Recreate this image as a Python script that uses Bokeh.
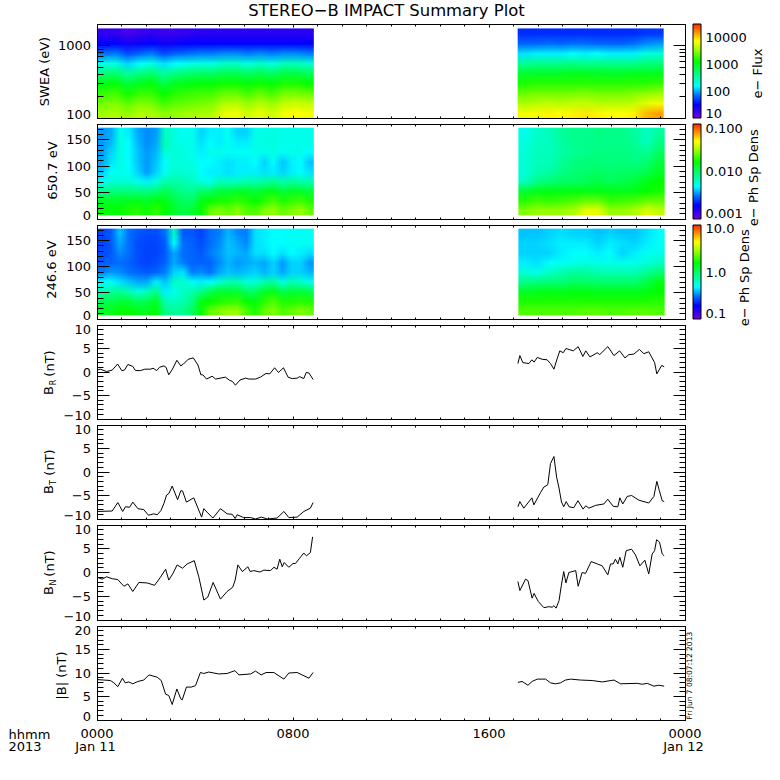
import base64, struct, zlib
import numpy as np
from bokeh.embed import file_html
from bokeh.resources import INLINE
from bokeh.plotting import figure
from bokeh.models import (ColorBar, FixedTicker, Label, LinearAxis, LinearScale, LogAxis, LogColorMapper,
                          LogScale, Range1d)

TITLE = "STEREO\u2212B IMPACT Summary Plot"
STAMP = "Fri Jun  7 08:07:12 2013"

# ---- spectrogram readings: colour-scale percent, one list per time column, top row to bottom row
swea_seg1 = [
    [8,14,24,36,48,58,64,69,73],[8,14,25,37,49,59,65,70,74],[5,12,21,31,44,54,61,67,72],
    [7,13,23,34,47,57,64,70,75],[8,14,25,37,49,59,64,69,74],[7,12,21,32,44,53,60,65,71],
    [7,13,23,34,47,57,63,67,72],[8,14,24,36,49,58,64,68,73],[9,14,25,37,50,59,65,69,74],
    [9,14,25,37,50,59,65,70,74],[9,14,26,40,52,61,68,74,80],[9,14,26,40,52,61,68,75,81],
    [9,14,25,37,50,59,65,72,77],[9,14,26,40,52,61,68,75,80],[9,14,25,37,50,59,65,72,77],
    [9,14,26,41,53,62,69,76,81],[9,14,26,41,53,62,69,77,82],[9,14,25,39,51,60,68,76,81]]
swea_seg2 = [
    [18,23,32,45,55,62,68,74,81],[18,23,33,46,56,63,69,75,81],[18,24,33,46,56,63,69,76,83],
    [18,23,33,46,56,63,69,75,82],[18,24,34,47,57,63,69,76,83],[18,24,33,46,57,63,70,76,84],
    [18,23,34,46,56,63,69,75,83],[18,23,33,46,56,63,69,75,82],[18,23,33,46,56,63,69,75,82],
    [18,24,33,46,57,63,70,76,83],[19,26,37,48,57,63,71,79,88],[19,27,38,48,57,64,72,81,90]]
pad650_seg1 = [
    [27,27,27,28,30,34,46,56,60],[28,29,31,32,34,38,47,56,60],[36,37,37,37,36,38,48,56,60],
    [33,34,34,34,34,38,48,57,62],[28,29,30,30,31,36,47,58,63],[26,26,27,27,27,33,47,56,61],
    [27,28,29,30,31,37,48,59,64],[40,42,38,34,35,42,52,58,60],[37,37,38,38,39,43,48,53,56],
    [35,36,37,37,38,42,46,50,53],[36,36,36,37,38,40,45,50,55],[31,32,33,34,34,37,50,58,60],
    [33,34,36,34,33,35,50,60,68],[33,33,36,33,33,41,54,62,70],[35,35,35,32,32,40,54,62,68],
    [31,33,35,33,33,40,56,64,71],[31,33,35,33,33,42,56,62,67],[36,36,36,34,33,42,54,60,66],
    [36,37,36,31,32,43,57,63,70],[37,37,37,34,33,45,58,66,72],[36,36,35,30,31,42,54,62,68],
    [36,36,36,33,33,44,56,64,70],[36,36,36,34,34,42,56,65,72],[36,36,34,30,32,42,54,62,68]]
pad650_seg2 = [
    [36,37,38,38,38,40,55,63,70],[39,40,41,41,42,46,57,65,72],[41,40,41,41,43,48,58,64,72],
    [44,44,43,45,46,50,58,65,72],[46,45,45,47,48,50,58,66,74],[45,46,46,48,49,51,58,68,80],
    [47,46,47,48,50,53,58,68,80],[46,46,47,47,49,51,58,64,72],[46,46,47,48,50,52,57,65,72],
    [44,45,46,47,50,54,58,66,74],[40,41,45,48,52,58,60,68,79],[44,47,50,54,56,60,62,68,76]]
pad246_seg1 = [
    [20,20,21,22,25,34,42,52,56],[22,22,22,23,27,34,44,52,57],[30,28,26,24,26,32,45,54,60],
    [24,24,24,23,24,30,42,54,60],[22,21,21,21,23,28,37,50,58],[21,20,20,20,22,28,40,52,57],
    [21,20,20,21,23,33,46,56,60],[24,22,22,23,25,30,33,42,47],[40,34,28,28,31,40,36,40,44],
    [22,24,24,25,32,39,40,42,46],[22,23,23,23,25,35,42,46,50],[20,21,22,23,26,33,46,58,60],
    [24,24,25,23,24,34,52,60,68],[25,26,27,26,28,38,55,62,70],[29,30,30,29,30,42,55,63,72],
    [26,28,29,27,29,42,55,64,72],[25,26,28,28,30,38,50,60,66],[32,32,32,29,31,38,50,58,62],
    [33,33,32,28,29,42,56,63,68],[34,34,34,31,31,44,58,66,70],[34,34,32,27,28,36,52,62,66],
    [35,35,34,31,31,42,54,62,68],[35,35,33,31,31,40,54,63,70],[35,35,32,27,29,36,52,62,68]]
pad246_seg2 = [
    [30,31,31,33,38,46,56,62,66],[30,31,31,32,36,47,57,62,66],[31,32,31,34,40,48,58,62,66],
    [32,33,33,35,42,48,57,62,66],[31,33,34,36,44,50,58,62,66],[31,33,34,37,44,50,58,62,67],
    [30,31,33,36,42,49,57,62,67],[31,33,34,36,42,49,57,62,66],[30,32,31,36,42,49,57,62,66],
    [30,31,33,36,42,49,57,62,67],[32,33,35,38,45,52,58,62,67],[34,35,36,40,48,58,60,63,66]]

# ---- magnetic field readings: hours, nT
br_t1 = [.01,.14,.39,.62,.84,1.01,1.12,1.26,1.46,1.57,1.78,1.95,2.18,2.29,2.44,2.55,2.73,2.82,2.93,3.08,3.26,3.42,3.53,3.72,3.93,4.12,4.24,4.32,4.47,4.70,4.84,5.24,5.42,5.53,5.65,5.84,6.06,6.20,6.47,6.67,6.90,7.05,7.25,7.41,7.61,7.80,7.97,8.17,8.27,8.44,8.54,8.65,8.82]
br_v1 = [.4,.6,.1,.4,1.7,.3,.4,1.6,1.2,.3,.3,.6,.6,.8,.3,1,1.3,1,-.6,.6,2.5,1.3,1.7,2.7,3,1.5,-.6,-.6,-1.5,-.9,-1.5,-1.1,-1.8,-2,-2.8,-1.7,-1.3,-1.5,-1.5,-1.1,-.3,-.4,.9,-.1,.9,-1.1,-1.4,-1.3,-1,-1.4,-.1,-.2,-1.6]
br_t2 = [17.18,17.26,17.38,17.63,17.75,17.84,17.97,18.17,18.37,18.51,18.65,18.78,18.89,19.03,19.14,19.44,19.64,19.83,19.95,20.12,20.42,20.52,20.85,21.10,21.33,21.55,21.71,21.91,22.14,22.32,22.52,22.76,22.85,23.05,23.15]
br_v2 = [1.8,3.5,2,1.8,2.6,2.1,3.1,2.7,2.6,1.8,.6,2.8,4.5,4.1,5,4.5,5.4,3.3,4.5,3.2,4.1,3.7,5.4,3.5,4.5,3,3.7,3.8,4.8,3.9,4.3,2,-.4,1.4,1.1]
bt_t1 = [.01,.62,.85,1.05,1.16,1.33,1.46,1.67,1.91,2.10,2.32,2.46,2.61,2.73,2.84,2.93,3.07,3.29,3.42,3.49,3.65,3.95,4.27,4.36,4.52,4.73,5.04,5.31,5.52,5.64,5.72,5.99,6.27,6.47,6.71,6.95,7.35,7.63,7.83,8.17,8.44,8.71,8.82]
bt_v1 = [-8.4,-8.3,-6.5,-8.4,-7.4,-7.5,-6.4,-7.8,-8,-9.2,-8.9,-9.1,-8.2,-6.7,-4.9,-4.6,-3,-5.9,-4,-4,-6.4,-5.5,-9.6,-7.8,-8.7,-9.8,-7.8,-8.9,-9,-9.9,-9.1,-9.7,-9.7,-10,-9.6,-10,-9.8,-8.4,-9.7,-9.6,-8.4,-7.7,-6.5]
bt_t2 = [17.18,17.26,17.42,17.75,17.83,18.10,18.24,18.40,18.51,18.65,18.76,18.85,18.96,19.05,19.15,19.27,19.46,19.63,19.84,19.95,20.08,20.35,20.69,20.85,21.07,21.26,21.34,21.46,21.64,21.82,22.12,22.52,22.73,22.85,22.95,23.07,23.15]
bt_v2 = [-7.4,-6.3,-7.7,-5.5,-7,-4.4,-3.2,-2.7,1.8,3.3,-1.1,-3.2,-6.4,-7.4,-6.3,-7.4,-7.6,-6.1,-7.9,-7.2,-7.7,-7.1,-6.8,-5.8,-7.3,-7.4,-5.5,-6.8,-5.2,-5,-6,-6.6,-5.2,-2,-3.9,-6.1,-6.3]
bn_t1 = [.01,.21,.39,.62,.85,1.10,1.26,1.46,1.71,2.05,2.35,2.59,2.80,2.93,3.10,3.27,3.49,3.68,3.97,4.16,4.36,4.52,4.74,5.04,5.31,5.54,5.64,5.75,5.93,6.16,6.25,6.40,6.65,6.81,7.08,7.22,7.35,7.46,7.56,7.64,7.83,8.00,8.10,8.27,8.44,8.55,8.71,8.80]
bn_v1 = [-1,-1.4,-.9,-1.3,-1.5,-2.9,-2.4,-4,-2.1,-2.2,-2.7,-1,.7,-1.6,-.2,1.6,.9,1.8,2.5,-1,-5.8,-5.2,-2.1,-5.6,-4,-3.1,-1.6,1.6,.2,1.2,.2,.4,.1,.5,.4,1.1,.7,2.8,1.2,2.1,1.1,1.9,1.9,3,4.1,3.5,4.2,7.5]
bn_t2 = [17.18,17.26,17.49,17.59,17.76,17.84,18.01,18.24,18.44,18.58,18.65,18.74,18.86,18.95,19.05,19.14,19.26,19.54,19.64,19.80,19.94,20.17,20.42,20.62,20.85,20.96,21.07,21.16,21.26,21.34,21.46,21.60,21.82,21.98,22.16,22.36,22.52,22.66,22.76,22.84,22.96,23.07,23.15]
bn_v2 = [-1.9,-3.8,-1.4,-1.7,-5.4,-4.4,-6.1,-7.4,-7.2,-7.3,-7,-7.5,-5.9,-2.8,.2,-2.2,0,.4,-2.9,0,-.2,2.3,1.8,1.4,-.5,1.8,1.8,2.8,1.8,3.2,1.1,4.6,4.9,3.7,1.4,2.6,-.3,3.9,4.6,6.9,6.4,3.9,3.5]
bm_t1 = [.01,.55,.69,.85,1.04,1.15,1.30,1.46,1.67,1.91,2.12,2.46,2.62,2.80,2.93,3.07,3.26,3.42,3.48,3.65,3.84,4.02,4.22,4.36,4.56,4.97,5.31,5.63,5.79,6.27,6.47,6.70,6.90,7.22,7.63,7.83,8.17,8.37,8.65,8.82]
bm_v1 = [8.6,8.4,7.9,7.1,8.9,7.9,8.1,7.7,8.2,8.5,9.6,9.1,8.4,5.5,5.2,3.3,6.6,4.5,4.3,7,7,7.3,10.1,9.9,10.2,9.8,9.9,10.5,9.6,9.8,10.4,9.6,10.1,10.1,8.7,10,10.1,9.6,8.9,10.1]
bm_t2 = [17.18,17.35,17.59,17.76,17.97,18.31,18.51,18.71,18.92,19.12,19.33,19.74,20.21,20.62,21.10,21.37,22.05,22.25,22.46,22.73,22.93,23.15]
bm_v2 = [8,8.2,7.4,8.2,8.7,8.7,7.9,7.7,7.9,8.5,8.7,8.5,8.4,8.1,8.5,7.7,7.8,7.6,7.8,7.2,7.4,7.2]

FONT = "DejaVu Sans"
FS = "13px"
W, H = 772, 768
PX_L, PX_R = 96.5, 684.5
HOUR = (PX_R - PX_L) / 24.0
stops_t = [0, .14, .24, .34, .47, .60, .71, .82, .91, 1]
stops_r = [112, 0, 0, 0, 0, 0, 140, 255, 255, 255]
stops_g = [0, 0, 110, 255, 255, 255, 255, 255, 150, 40]
stops_b = [224, 255, 255, 255, 128, 0, 0, 0, 0, 0]
tt = np.linspace(0, 1, 256)
PALETTE = ["#%02x%02x%02x" % (int(np.interp(t, stops_t, stops_r)), int(np.interp(t, stops_t, stops_g)),
                              int(np.interp(t, stops_t, stops_b))) for t in tt]

p = figure(width=W, height=H, min_border=0, x_range=Range1d(-PX_L / HOUR, (W - PX_L) / HOUR),
           y_range=Range1d(0, H), toolbar_location=None, output_backend="svg",
           x_axis_location=None, y_axis_location=None)
p.grid.visible = False
p.outline_line_color = None
p.background_fill_color = None
p.border_fill_color = None


def add_panel(name, lo, hi, px_top, px_bottom, major, minor, ends, log=False, x_labels=None):
    """One stacked panel: its own value range, mapped onto its strip of the shared canvas."""
    f = (np.log10 if log else float)
    per_px = (f(hi) - f(lo)) / (px_bottom - px_top)
    a, b = f(lo) - (H - px_bottom) * per_px, f(hi) + px_top * per_px
    p.extra_y_ranges[name] = Range1d(10 ** a, 10 ** b) if log else Range1d(a, b)
    p.extra_y_scales[name] = LogScale() if log else LinearScale()
    Ax = LogAxis if log else LinearAxis
    t = FixedTicker(ticks=major, minor_ticks=minor)
    style = dict(axis_line_color="black", axis_line_width=1, major_tick_line_color="black",
                 minor_tick_line_color="black", major_tick_out=0, minor_tick_out=0,
                 y_range_name=name)
    for side, loc in (("left", 0), ("right", 24)):
        ax = Ax(ticker=t, fixed_location=loc, bounds=(lo, hi), major_tick_in=12, minor_tick_in=6, **style)
        if side == "left":
            ax.major_label_text_font = FONT
            ax.major_label_text_font_size = FS
            ax.major_label_text_color = "black"
            ax.major_label_standoff = 6
            ax.major_label_overrides = {v: ("" if v in ends else str(v).replace("-", "\u2212")) for v in major}
        else:
            ax.major_label_overrides = {v: "" for v in major}
        p.add_layout(ax, side)
    xt = FixedTicker(ticks=[0, 8, 16, 24], minor_ticks=list(range(25)))
    for side, loc in (("above", hi), ("below", lo)):
        ax = LinearAxis(ticker=xt, fixed_location=loc, bounds=(0, 24), major_tick_in=3, minor_tick_in=2, **style)
        if side == "below" and x_labels:
            ax.major_label_overrides = x_labels
            ax.major_label_text_font = FONT
            ax.major_label_text_font_size = FS
            ax.major_label_text_color = "black"
            ax.major_label_standoff = 9
        else:
            ax.major_label_overrides = {v: "" for v in (0, 8, 16, 24)}
        p.add_layout(ax, side)
    for v, off in ends.items():
        p.add_layout(Label(x=0, y=v, y_range_name=name, text=str(v).replace("-", "\u2212"), x_offset=-6, y_offset=off,
                           text_font=FONT, text_font_size=FS, text_color="black", text_align="right",
                           text_baseline="middle"))


def text(s, ax, ay, size=FS, align="center", angle=0.0):
    """A text at an absolute position on the canvas."""
    p.add_layout(Label(x=ax, y=H - ay, x_units="screen", y_units="screen", text=s,
                       text_font=FONT, text_font_size=size, text_color="black",
                       text_align=align, text_baseline="middle", angle=angle))


def ylab(s, ax, ay):
    text(s, ax, ay, angle=np.pi / 2)


def png_url(levels):
    """The read grid, one pixel per reading, as a PNG; the browser does the smoothing when it scales it."""
    a = np.array(levels, dtype=float).T  # rows top->bottom, columns in time
    rgb = np.stack([np.interp(a / 100.0, stops_t, s) for s in (stops_r, stops_g, stops_b)], axis=-1).astype(np.uint8)
    raw = b"".join(b"\x00" + row.tobytes() for row in rgb)
    def chunk(tag, body):
        return struct.pack(">I", len(body)) + tag + body + struct.pack(">I", zlib.crc32(tag + body))
    hdr = struct.pack(">IIBBBBB", rgb.shape[1], rgb.shape[0], 8, 2, 0, 0, 0)
    png = b"\x89PNG\r\n\x1a\n" + chunk(b"IHDR", hdr) + chunk(b"IDAT", zlib.compress(raw)) + chunk(b"IEND", b"")
    return "data:image/png;base64," + base64.b64encode(png).decode()


def spectro(name, seg1, seg2, lo, hi, y0, y1, x1, x2, px_top, px_bottom):
    for seg, xx in ((seg1, x1), (seg2, x2)):
        p.image_url(url=[png_url(seg)], x=xx[0], y=y0, w=xx[1] - xx[0], h=y1 - y0, anchor="bottom_left",
                    y_range_name=name)
    ends = [lo, hi]
    cb = ColorBar(color_mapper=LogColorMapper(palette=PALETTE, low=lo, high=hi),
                  ticker=FixedTicker(ticks=ends), major_label_overrides={v: "" for v in ends},
                  location=(692.5, H - px_bottom), width=8, height=int(px_bottom - px_top),
                  padding=0, margin=0, bar_line_color="black", bar_line_width=1, major_tick_line_color=None,
                  minor_tick_line_color=None)
    p.add_layout(cb, "center")


PITCH_MINOR = list(range(0, 181, 10))
B_MINOR = list(range(-10, 11))
B_MAJOR = [-10, -5, 0, 5, 10]

# SWEA
spectro("swea", swea_seg1, swea_seg2, 10, 31623, 100, 1737, (0, 8.85), (17.17, 23.13), 23.5, 117.5)
add_panel("swea", 100, 2000, 23.5, 117.5, [100, 1000], [200, 300, 400, 500, 600, 700, 800, 900], {100: 4}, log=True)
ylab("SWEA (eV)", 44, 71)
text(TITLE, 386, 9.5, size="16.4px")
for s, y in (("10000", 37), ("1000", 64), ("100", 91), ("10", 113)):
    text(s, 705, y, align="left")
ylab("e\u2212  Flux", 757, 71)

# 650.7 eV
spectro("p650", pad650_seg1, pad650_seg2, 0.001, 0.1, 7, 173, (0, 8.85), (17.2, 23.17), 123.5, 218.5)
add_panel("p650", 0, 180, 123.5, 218.5, [0, 50, 100, 150], PITCH_MINOR, {0: 4})
ylab("650.7  eV", 52, 168)
for s, y in (("0.100", 128), ("0.010", 171), ("0.001", 213)):
    text(s, 705, y, align="left")
ylab("e\u2212  Ph  Sp  Dens", 753, 171)

# 246.6 eV
spectro("p246", pad246_seg1, pad246_seg2, 0.1, 10, 7, 173, (0, 8.85), (17.2, 23.17), 224.5, 318.5)
add_panel("p246", 0, 180, 224.5, 318.5, [0, 50, 100, 150], PITCH_MINOR, {0: 4})
ylab("246.6  eV", 51, 267)
for s, y in (("10.0", 228), ("1.0", 272), ("0.1", 313)):
    text(s, 705, y, align="left")
ylab("e\u2212  Ph  Sp  Dens", 744, 271)


def bpanel(name, lo, hi, t1, v1, t2, v2, top, bottom, major, minor, ends, x_labels=None):
    for t, v in ((t1, v1), (t2, v2)):
        p.line(t, v, line_color="black", line_width=1, y_range_name=name)
    add_panel(name, lo, hi, top, bottom, major, minor, ends, x_labels=x_labels)


def sub_label(letter, y_b, y_s, y_u):
    ylab("B", 48, y_b)
    text(letter, 53, y_s, size="8px", angle=np.pi / 2)
    ylab("(nT)", 49, y_u)


bpanel("br", -10, 10, br_t1, br_v1, br_t2, br_v2, 324.5, 418.5, B_MAJOR, B_MINOR, {10: -4, -10: 4})
sub_label("R", 390, 382, 363)
bpanel("bt", -10, 10, bt_t1, bt_v1, bt_t2, bt_v2, 424.5, 518.5, B_MAJOR, B_MINOR, {10: -4, -10: 4})
sub_label("T", 489, 482, 462)
bpanel("bn", -10, 10, bn_t1, bn_v1, bn_t2, bn_v2, 524.5, 619.5, B_MAJOR, B_MINOR, {10: -4, -10: 4})
sub_label("N", 590, 582, 563)
bpanel("bm", 0, 20, bm_t1, bm_v1, bm_t2, bm_v2, 625.5, 719.5, [0, 5, 10, 15, 20], list(range(21)), {20: -4, 0: 4},
       x_labels={0: "0000", 8: "0800", 16: "1600", 24: "0000"})
ylab("|B|  (nT)", 61, 673)
text(STAMP, 689, 674, size="7.5px", angle=np.pi / 2)
text("hhmm", 8, 734, align="left")
text("2013", 8, 746, align="left")
text("Jan 11", 95, 746)
text("Jan 12", 683, 746)

open("out.html", "w").write(file_html(p, INLINE))
